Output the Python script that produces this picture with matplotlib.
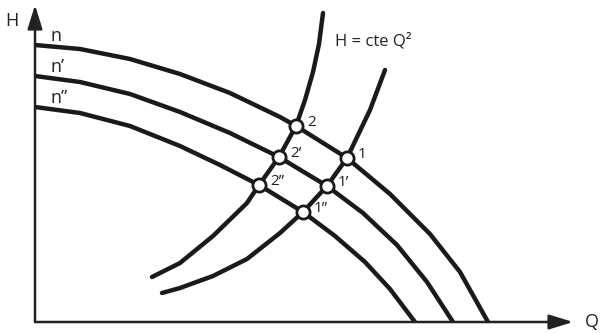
import matplotlib.pyplot as plt

plt.rcParams['font.family'] = ['Open Sans', 'DejaVu Sans']

# pump curves at three speeds n > n' > n'' (flow Q, head H)
q_n = [0, 45, 95, 145, 195, 245, 261, 312, 355, 395, 425, 453]
h_n = [277, 273, 263, 248, 229, 205, 196, 164, 128, 88, 50, 0]
q_n1 = [0, 45, 95, 145, 195, 244, 292, 328, 362, 392, 418]
h_n1 = [246, 240, 228, 210, 189, 165, 136, 109, 77, 40, 0]
q_n2 = [0, 45, 95, 145, 185, 224, 268, 300, 330, 355, 380]
h_n2 = [215, 209, 196, 176, 157, 137, 110, 86, 60, 33, 0]

# system curves H = cte Q^2
q_sys_a = [117, 145, 178, 212, 224, 244, 261, 270, 278, 284, 288]
h_sys_a = [45, 59, 86, 119, 137, 165, 196, 222, 250, 278, 309]
q_sys_b = [127, 145, 178, 212, 245, 268, 292, 312, 335, 350]
h_sys_b = [29, 34, 46, 63, 89, 110, 136, 164, 212, 252]

# operating points
pt_labels = ['2', '2’', '2”', '1', '1’', '1”']
pt_q = [261, 244, 224, 312, 292, 268]
pt_h = [196, 165, 137, 164, 136, 110]

speed_labels = ['n', 'n’', 'n”']
speed_h0 = [277, 246, 215]

fig = plt.figure(figsize=(6, 3.33), dpi=100)
ax = fig.add_axes([0, 0, 1, 1])
ax.set_xlim(-35, 565)
ax.set_ylim(-11, 322)
ax.axis('off')

# axes with arrow heads
arrow = dict(arrowstyle='-|>,head_length=14.5,head_width=4.5', mutation_scale=1,
             lw=1.8, color='#222222', shrinkA=0, shrinkB=0)
ax.annotate('', xy=(0, 317), xytext=(0, 0), arrowprops=arrow)
ax.annotate('', xy=(538, 0), xytext=(0, 0), arrowprops=arrow)
ax.text(-23, 300.5, 'H', fontsize=13, ha='center', va='center', color='#222222')
ax.text(557, -0.5, 'Q', fontsize=13, ha='center', va='center', color='#222222')

lw = 3.2
for q, h in [(q_n, h_n), (q_n1, h_n1), (q_n2, h_n2)]:
    ax.plot(q, h, color='#1a1a1a', lw=lw, solid_capstyle='butt',
            solid_joinstyle='round', zorder=2)
for q, h in [(q_sys_a, h_sys_a), (q_sys_b, h_sys_b)]:
    ax.plot(q, h, color='#1a1a1a', lw=lw, solid_capstyle='round',
            solid_joinstyle='round', zorder=2)

ax.plot(pt_q, pt_h, 'o', ms=9.5, mfc='white', mec='#1a1a1a', mew=2, zorder=3)
for lab, q, h in zip(pt_labels, pt_q, pt_h):
    ax.text(q + 11, h, lab, fontsize=11, ha='left', va='baseline', color='#222222')

for lab, h0 in zip(speed_labels, speed_h0):
    ax.text(15, h0 + 4, lab, fontsize=13, ha='left', va='baseline', color='#222222')

ax.text(300, 277, 'H = cte Q²', fontsize=12, ha='left', va='baseline', color='#222222')

fig.savefig('out.png', dpi=100)
